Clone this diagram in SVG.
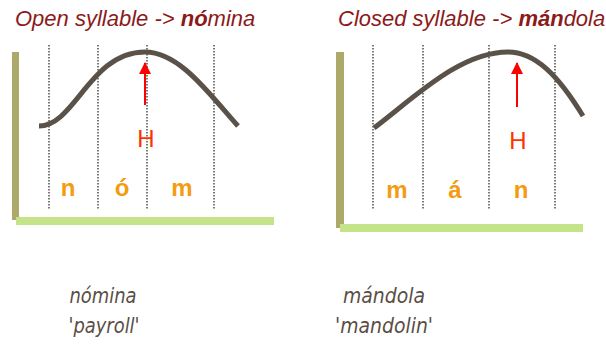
<svg xmlns="http://www.w3.org/2000/svg" width="606" height="346" viewBox="0 0 606 346">
<defs>
<marker id="ah" markerWidth="12" markerHeight="12" viewBox="0 0 12 12" refX="11" refY="6" orient="auto" markerUnits="userSpaceOnUse">
<path d="M0,0 L12,6 L0,12 Z" fill="#ff0000"/>
</marker>
</defs>
<style>
.title{font-family:"Liberation Sans",Arial,sans-serif;font-style:italic;font-size:22px;fill:#8b1a1a}
.b{font-weight:bold}
.vbar{fill:#ada96b}
.hbar{fill:#c5e48a}
.dot{stroke:#222;stroke-width:1.2;stroke-dasharray:1.5,1.5;fill:none}
.curve{stroke:#5a5249;stroke-width:5;fill:none}
.arrow{stroke:#ff0000;stroke-width:2;fill:none}
.H{font-family:"Liberation Sans",Arial,sans-serif;font-size:24px;fill:#ff3300;text-anchor:middle}
.seg{font-family:"Liberation Sans",Arial,sans-serif;font-weight:bold;font-size:24px;fill:#f39c12;text-anchor:middle}
.word{font-family:"DejaVu Sans",sans-serif;font-style:italic;font-size:22px;fill:#5a4e45;text-anchor:middle}
</style>

<g id="left-panel">
<text class="title" x="15" y="26">Open syllable -&gt; <tspan class="b">nó</tspan>mina</text>
<rect class="vbar" x="12" y="52" width="7" height="168"/>
<rect class="hbar" x="16" y="217" width="258" height="8"/>
<line class="dot" x1="49" y1="45" x2="49" y2="210"/>
<line class="dot" x1="98" y1="45" x2="98" y2="210"/>
<line class="dot" x1="147" y1="45" x2="147" y2="210"/>
<line class="dot" x1="214" y1="45" x2="214" y2="210"/>
<path class="curve" d="M39,126 C75,126 90,52 145,52 C180,52 210,95 238,126"/>
<text class="H" x="146" y="147">H</text>
<text class="seg" x="68" y="196">n</text>
<text class="seg" x="122" y="196">ó</text>
<text class="seg" x="182" y="196">m</text>
</g>

<g id="right-panel">
<text class="title" x="338" y="26">Closed syllable -&gt; <tspan class="b">mán</tspan>dola</text>
<rect class="vbar" x="336" y="52" width="8" height="176"/>
<rect class="hbar" x="340" y="224" width="243" height="8"/>
<line class="dot" x1="373" y1="45" x2="373" y2="210"/>
<line class="dot" x1="423" y1="45" x2="423" y2="210"/>
<line class="dot" x1="489" y1="45" x2="489" y2="210"/>
<line class="dot" x1="555" y1="45" x2="555" y2="210"/>
<path class="curve" d="M374,128 C415,97 460,52 508,52 C535,52 558,75 583,116"/>
<text class="H" x="518" y="149">H</text>
<text class="seg" x="397" y="198">m</text>
<text class="seg" x="455" y="198">á</text>
<text class="seg" x="521" y="198">n</text>
</g>

<g id="connectors">
<line class="arrow" x1="145" y1="105" x2="145" y2="63" marker-end="url(#ah)"/>
<line class="arrow" x1="517" y1="107" x2="517" y2="63" marker-end="url(#ah)"/>
</g>

<g id="glosses">
<text class="word" x="103" y="303" textLength="67" lengthAdjust="spacingAndGlyphs">nómina</text>
<text class="word" x="104" y="333" textLength="71" lengthAdjust="spacingAndGlyphs">'payroll'</text>
<text class="word" x="384" y="303" textLength="82" lengthAdjust="spacingAndGlyphs">mándola</text>
<text class="word" x="384" y="333" textLength="98" lengthAdjust="spacingAndGlyphs">'mandolin'</text>
</g>
</svg>
